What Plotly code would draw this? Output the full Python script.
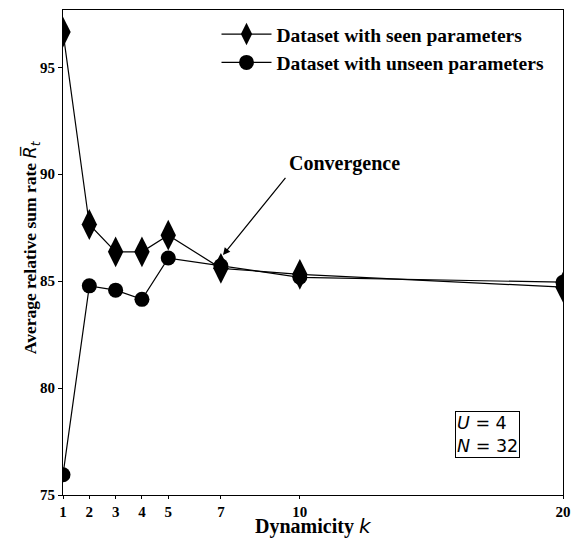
import plotly.graph_objects as go

k_values = [1, 2, 3, 4, 5, 7, 10, 20]
seen = [96.65, 87.65, 86.37, 86.37, 87.15, 85.6, 85.32, 84.72]
unseen = [75.95, 84.78, 84.58, 84.15, 86.08, 85.72, 85.18, 84.95]
x_ticks = [1, 2, 3, 4, 5, 7, 10, 20]
y_ticks = [75, 80, 85, 90, 95]

serif = "Liberation Serif"

fig = go.Figure()
fig.add_trace(go.Scatter(
    x=k_values, y=seen, mode="lines+markers",
    name="<b>Dataset with seen parameters</b>",
    line=dict(color="black", width=1.2),
    marker=dict(symbol="diamond-tall", size=22, color="black"),
))
fig.add_trace(go.Scatter(
    x=k_values, y=unseen, mode="lines+markers",
    name="<b>Dataset with unseen parameters</b>",
    line=dict(color="black", width=1.2),
    marker=dict(symbol="circle", size=15, color="black"),
))

fig.add_annotation(
    x=7.08, y=86.22, ax=9.5, ay=89.9, xref="x", yref="y", axref="x", ayref="y",
    text="", showarrow=True, arrowhead=2, arrowsize=1.2, arrowwidth=1.2, arrowcolor="black",
)
fig.add_annotation(
    x=9.52, y=89.85, xref="x", yref="y", text="<b>Convergence</b>",
    showarrow=False, xanchor="left", yanchor="bottom",
    font=dict(family=serif, size=20, color="black"),
)
fig.add_annotation(
    x=0.783, y=0.125, xref="paper", yref="paper",
    text="<i>U</i> = 4<br><i>N</i> = 32", showarrow=False, align="left",
    xanchor="left", yanchor="middle",
    font=dict(family="DejaVu Sans", size=17.5, color="black"),
    bordercolor="black", borderwidth=1, borderpad=1, bgcolor="white",
)
# axis titles
fig.add_annotation(
    x=0.5, y=-0.064, xref="paper", yref="paper", showarrow=False,
    xanchor="center", yanchor="middle",
    text='<b>Dynamicity </b><span style="font-family:DejaVu Sans"><i>k</i></span>',
    font=dict(family=serif, size=20, color="black"),
)
fig.add_annotation(
    x=-0.064, y=0.511, xref="paper", yref="paper", showarrow=False,
    xanchor="center", yanchor="middle", textangle=-90,
    text='<b>Average relative sum rate </b><span style="font-family:DejaVu Sans"><i>R\u0305</i><sub><i>t</i></sub></span>',
    font=dict(family=serif, size=17.5, color="black"),
)

fig.update_layout(
    width=575, height=538,
    margin=dict(l=63, r=12, t=10, b=43),
    plot_bgcolor="white", paper_bgcolor="white",
    font=dict(family=serif, color="black"),
    showlegend=True,
    legend=dict(
        x=0.973, y=0.99, xanchor="right", yanchor="top",
        font=dict(family=serif, size=19.5, color="black"),
        bgcolor="rgba(0,0,0,0)", tracegroupgap=0, itemwidth=50,
    ),
    xaxis=dict(
        range=[1, 20], tickmode="array", tickvals=x_ticks,
        ticktext=[f"<b>{v}</b>" for v in x_ticks],
        showgrid=False, zeroline=False, showline=True, mirror=True, automargin=False,
        linecolor="black", linewidth=1, ticks="outside", ticklen=3, tickcolor="black",
        tickfont=dict(family=serif, size=15, color="black"),
    ),
    yaxis=dict(
        range=[75, 97.68], tickmode="array", tickvals=y_ticks,
        ticktext=[f"<b>{v}</b>" for v in y_ticks],
        showgrid=False, zeroline=False, showline=True, mirror=True, automargin=False,
        linecolor="black", linewidth=1, ticks="outside", ticklen=4, tickcolor="black",
        tickfont=dict(family=serif, size=15, color="black"),
    ),
)

fig.write_html("out.html")
